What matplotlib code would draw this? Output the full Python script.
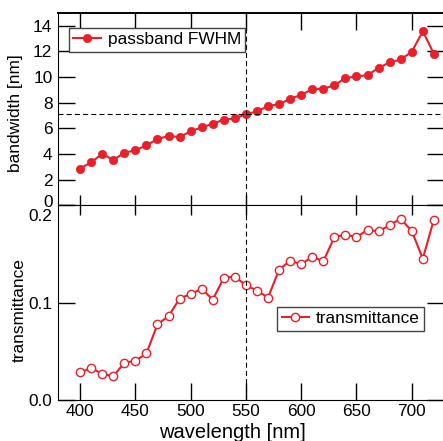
import matplotlib
matplotlib.use("Agg")
import matplotlib.pyplot as plt
from matplotlib.transforms import ScaledTranslation

plt.rcParams['font.family'] = ['Liberation Sans', 'DejaVu Sans']
plt.rcParams['lines.scale_dashes'] = False

red = "#e8202a"

wavelength = [400, 410, 420, 430, 440, 450, 460, 470, 480, 490, 500,
              510, 520, 530, 540, 550, 560, 570, 580, 590, 600, 610,
              620, 630, 640, 650, 660, 670, 680, 690, 700, 710, 720]

fwhm = [2.86, 3.37, 4.02, 3.55, 4.10, 4.30, 4.67, 5.19, 5.39, 5.34, 5.76,
        6.09, 6.35, 6.69, 6.77, 7.11, 7.32, 7.73, 7.88, 8.30, 8.61, 9.05,
        9.08, 9.36, 9.91, 10.04, 10.14, 10.71, 11.13, 11.36, 11.96, 13.56, 11.80]

trans = [0.0284, 0.0328, 0.0270, 0.0243, 0.0383, 0.0403, 0.0479, 0.0779,
         0.0862, 0.1043, 0.1090, 0.1142, 0.1032, 0.1258, 0.1268, 0.1180,
         0.1125, 0.1053, 0.1340, 0.1432, 0.1395, 0.1474, 0.1426, 0.1675,
         0.1700, 0.1675, 0.1750, 0.1733, 0.1798, 0.1863, 0.1737, 0.1453, 0.1856]

center_wl = 550
center_fwhm = 7.08

bw_ticks = [0, 2, 4, 6, 8, 10, 12, 14]
tr_ticks = [0.0, 0.1, 0.2]
tr_labels = ["0.0", "0.1", "0.2"]
wl_ticks = [400, 450, 500, 550, 600, 650, 700]

W, H = 443, 441
fig = plt.figure(figsize=(W / 100, H / 100), dpi=100)

left = 58 / W
right = 443.5 / W
mid = 1 - 205.5 / H
top = 1 - 12.7 / H
bot = 1 - 400 / H

ax1 = fig.add_axes([left, mid, right - left, top - mid])
ax2 = fig.add_axes([left, bot, right - left, mid - bot])

dash = (0, (3.6, 2.3))

# --- top panel: passband FWHM
ax1.plot(wavelength, fwhm, "-o", color=red, lw=1.5, ms=6, mfc=red, mec=red,
         mew=0.5, label="passband FWHM")
ax1.axvline(center_wl, color="k", lw=0.8, ls=dash)
ax1.axhline(center_fwhm, color="k", lw=0.8, ls=dash)
ax1.set_xlim(380, 728.7)
ax1.set_ylim(0, 15)
ax1.set_yticks(bw_ticks, [str(t) for t in bw_ticks])
ax1.set_xticks(wl_ticks)
ax1.tick_params(axis="x", which="both", direction="in", length=12, width=1,
                top=True, bottom=False, labelbottom=False)
ax1.tick_params(axis="y", direction="in", length=12, width=1, right=True,
                labelsize=12.4, pad=4)
ax1.spines["right"].set_visible(False)
ax1.spines["top"].set_linewidth(1.4)
ax1.set_ylabel("bandwidth [nm]", fontsize=12.4)
ax1.yaxis.set_label_coords(-0.0896, 0.478)
leg1 = ax1.legend(loc="upper left", bbox_to_anchor=(0.029, 0.921),
                  borderaxespad=0, fontsize=12.4, handlelength=1.6,
                  handletextpad=0.4, borderpad=0.25, fancybox=False,
                  framealpha=1, edgecolor="#444444")
leg1.get_frame().set_linewidth(1.0)

# --- bottom panel: transmittance
ax2.plot(wavelength, trans, "-o", color=red, lw=1.5, ms=6, mfc="white",
         mec=red, mew=1.0, label="transmittance")
ax2.axvline(center_wl, color="k", lw=0.8, ls=dash)
ax2.set_xlim(380, 728.7)
ax2.set_ylim(0, 0.2)
ax2.set_yticks(tr_ticks, tr_labels)
ax2.set_xticks(wl_ticks)
ax2.tick_params(axis="x", direction="in", length=12, width=1, top=False,
                labelsize=12.4, pad=3)
ax2.tick_params(axis="y", direction="in", length=12, width=1, right=True,
                labelsize=12.4, pad=4)
ax2.spines["right"].set_visible(False)
sec = ax2.secondary_xaxis("top")
sec.set_xticks(wl_ticks)
sec.tick_params(direction="inout", length=14, width=1, labeltop=False)
sec.spines["top"].set_visible(False)
ax2.set_xlabel("wavelength [nm]", fontsize=14.5)
ax2.xaxis.set_label_coords(0.452, -0.1205)
ax2.set_ylabel("transmittance", fontsize=12.4)
ax2.yaxis.set_label_coords(-0.082, 0.4615)
leg2 = ax2.legend(loc="upper left", bbox_to_anchor=(0.569, 0.478),
                  borderaxespad=0, fontsize=12.4, handlelength=1.6,
                  handletextpad=0.4, borderpad=0.25, fancybox=False,
                  framealpha=1, edgecolor="#444444")
leg2.get_frame().set_linewidth(1.0)

# shift the two labels that meet at the panel boundary apart
lab0 = ax1.get_yticklabels()[0]
lab0.set_transform(lab0.get_transform() + ScaledTranslation(0, 4 / 100, fig.dpi_scale_trans))
lab2 = ax2.get_yticklabels()[2]
lab2.set_transform(lab2.get_transform() + ScaledTranslation(0, -10 / 100, fig.dpi_scale_trans))

fig.savefig("out.png", dpi=100)
